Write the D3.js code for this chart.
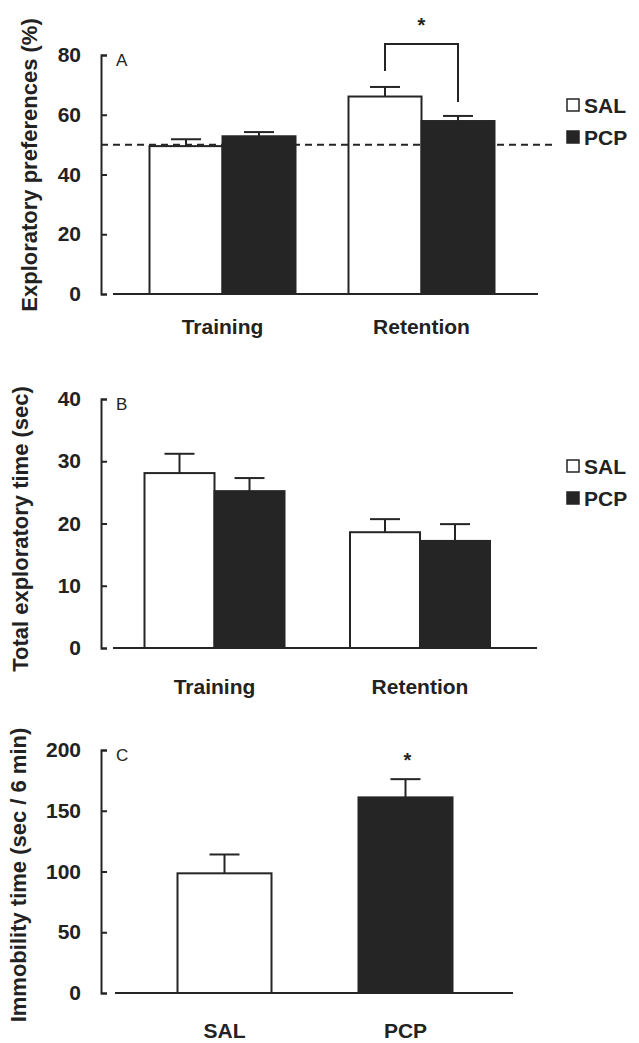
<!DOCTYPE html>
<html>
<head>
<meta charset="utf-8">
<script src="https://cdn.jsdelivr.net/npm/d3@7"></script>
<style>
  body { margin: 0; background: #fff; }
  text { font-family: "Liberation Sans", Arial, sans-serif; fill: #222; }
</style>
</head>
<body>
<div id="chart"></div>
<script>
// values
const phases = ['Training', 'Retention']
const groups = ['SAL', 'PCP']

const prefSAL = [49.5, 66.1]
const prefSALErr = [2.3, 3.2]
const prefPCP = [52.8, 57.9]
const prefPCPErr = [1.4, 1.7]
const prefTicks = [0, 20, 40, 60, 80]
const chanceLevel = 50

const timeSAL = [28.1, 18.6]
const timeSALErr = [3.1, 2.1]
const timePCP = [25.2, 17.2]
const timePCPErr = [2.1, 2.7]
const timeTicks = [0, 10, 20, 30, 40]

const immobility = [98.5, 161]
const immobilityErr = [15.5, 15]
const immobilityTicks = [0, 50, 100, 150, 200]

const dark = '#252525'

const svg = d3.select('#chart').append('svg')
  .attr('width', 639)
  .attr('height', 1043)

function drawPanel(p) {
  const g = svg.append('g')
  const y = d3.scaleLinear().domain(d3.extent(p.ticks)).range(p.yRange)

  // y axis, ticks pointing inwards
  const ax = g.append('g')
    .attr('transform', `translate(101,0)`)
    .call(d3.axisLeft(y).tickValues(p.ticks).tickSize(-6).tickPadding(20))
  ax.select('.domain').attr('stroke', dark).attr('stroke-width', 2)
  ax.selectAll('.tick line').attr('stroke', dark).attr('stroke-width', 2)
  ax.selectAll('.tick text')
    .style('font-size', '21px').style('font-weight', 'bold')
    .attr('fill', dark)

  g.append('text')
    .attr('x', 116).attr('y', y(p.ticks[p.ticks.length - 1]) + 11)
    .style('font-size', '17px')
    .text(p.letter)

  g.append('text')
    .attr('transform', `translate(${p.labelX},${p.labelY}) rotate(-90)`)
    .attr('text-anchor', 'middle')
    .style('font-size', '22px').style('font-weight', 'bold')
    .text(p.yLabel)

  const xc = d3.scalePoint().domain(p.cats).range(p.centers)
  const xs = d3.scaleBand().domain(p.series.map(s => s.name))
    .range([-p.barWidth * p.series.length / 2, p.barWidth * p.series.length / 2])

  const bars = []
  p.series.forEach(s => {
    s.values.forEach((v, i) => {
      const cat = s.cats ? s.cats[i] : p.cats[i]
      const x0 = s.cats ? xc(cat) - p.barWidth / 2 : xc(cat) + xs(s.name)
      bars.push({ name: s.name, fill: s.fill, v: v, err: s.err[i], x: x0, w: s.cats ? p.barWidth : xs.bandwidth() })
    })
  })

  g.selectAll('rect.bar').data(bars).enter().append('rect')
    .attr('class', 'bar')
    .attr('x', d => d.x)
    .attr('y', d => y(d.v))
    .attr('width', d => d.w)
    .attr('height', d => y(0) - y(d.v))
    .attr('fill', d => d.fill)
    .attr('stroke', dark)
    .attr('stroke-width', 2)

  g.selectAll('line.stem').data(bars).enter().append('line')
    .attr('x1', d => d.x + d.w / 2).attr('x2', d => d.x + d.w / 2)
    .attr('y1', d => y(d.v)).attr('y2', d => y(d.v + d.err))
    .attr('stroke', dark).attr('stroke-width', 2)
  g.selectAll('line.cap').data(bars).enter().append('line')
    .attr('x1', d => d.x + d.w / 2 - 15).attr('x2', d => d.x + d.w / 2 + 15)
    .attr('y1', d => y(d.v + d.err)).attr('y2', d => y(d.v + d.err))
    .attr('stroke', dark).attr('stroke-width', 2)

  // baseline
  g.append('line')
    .attr('x1', p.baseX[0]).attr('x2', p.baseX[1])
    .attr('y1', y(0)).attr('y2', y(0))
    .attr('stroke', dark).attr('stroke-width', 2)

  g.selectAll('text.cat').data(p.cats).enter().append('text')
    .attr('x', d => xc(d))
    .attr('y', y(0) + p.catDy)
    .attr('text-anchor', 'middle')
    .style('font-size', '21px').style('font-weight', 'bold')
    .text(d => d)

  if (p.legendY) {
    const lg = g.selectAll('g.leg').data(p.series).enter().append('g')
      .attr('transform', (d, i) => `translate(567,${p.legendY + i * 32})`)
    lg.append('rect')
      .attr('x', 0).attr('y', -6).attr('width', 12).attr('height', 12)
      .attr('fill', d => d.fill).attr('stroke', dark).attr('stroke-width', 1.5)
    lg.append('text')
      .attr('x', 17).attr('y', 7.5)
      .style('font-size', '21px').style('font-weight', 'bold')
      .text(d => d.name)
  }
  return { g, y, xc, xs, bars }
}

// panel A
const A = drawPanel({
  letter: 'A', yLabel: 'Exploratory preferences (%)', labelX: 37, labelY: 165,
  ticks: prefTicks, yRange: [294, 55],
  cats: phases, centers: [222.5, 421.5], barWidth: 73, baseX: [113, 538], catDy: 40,
  series: [
    { name: groups[0], values: prefSAL, err: prefSALErr, fill: '#fff' },
    { name: groups[1], values: prefPCP, err: prefPCPErr, fill: dark }
  ],
  legendY: 105
})

A.g.append('line')
  .attr('x1', 101).attr('x2', 555)
  .attr('y1', A.y(chanceLevel)).attr('y2', A.y(chanceLevel))
  .attr('stroke', dark).attr('stroke-width', 2)
  .attr('stroke-dasharray', '7,5')

// significance bracket over retention
const retSAL = A.bars.find(b => b.name === 'SAL' && b.x > 300)
const retPCP = A.bars.find(b => b.name === 'PCP' && b.x > 300)
const bTop = A.y(prefSAL[1] + prefSALErr[1]) - 43
A.g.append('path')
  .attr('d', `M${retSAL.x + retSAL.w / 2},${A.y(prefSAL[1] + prefSALErr[1]) - 16}V${bTop}H${retPCP.x + retPCP.w / 2}V${A.y(prefPCP[1] + prefPCPErr[1]) - 14}`)
  .attr('fill', 'none').attr('stroke', dark).attr('stroke-width', 2)
A.g.append('text')
  .attr('x', (retSAL.x + retSAL.w / 2 + retPCP.x + retPCP.w / 2) / 2)
  .attr('y', bTop - 12)
  .attr('text-anchor', 'middle')
  .style('font-size', '20px').style('font-weight', 'bold')
  .text('*')

// panel B
drawPanel({
  letter: 'B', yLabel: 'Total exploratory time (sec)', labelX: 28, labelY: 529,
  ticks: timeTicks, yRange: [648, 399],
  cats: phases, centers: [214.5, 420], barWidth: 70, baseX: [113, 537], catDy: 46,
  series: [
    { name: groups[0], values: timeSAL, err: timeSALErr, fill: '#fff' },
    { name: groups[1], values: timePCP, err: timePCPErr, fill: dark }
  ],
  legendY: 466
})

// panel C
const C = drawPanel({
  letter: 'C', yLabel: 'Immobility time (sec / 6 min)', labelX: 26, labelY: 875,
  ticks: immobilityTicks, yRange: [993, 750],
  cats: groups, centers: [224.5, 405.5], barWidth: 94, baseX: [115, 513], catDy: 45,
  series: [
    { name: 'SAL', values: [immobility[0]], err: [immobilityErr[0]], fill: '#fff', cats: [groups[0]] },
    { name: 'PCP', values: [immobility[1]], err: [immobilityErr[1]], fill: dark, cats: [groups[1]] }
  ]
})
C.g.append('text')
  .attr('x', C.xc('PCP') + 2)
  .attr('y', C.y(immobility[1] + immobilityErr[1]) - 12)
  .attr('text-anchor', 'middle')
  .style('font-size', '20px').style('font-weight', 'bold')
  .text('*')
</script>
</body>
</html>
